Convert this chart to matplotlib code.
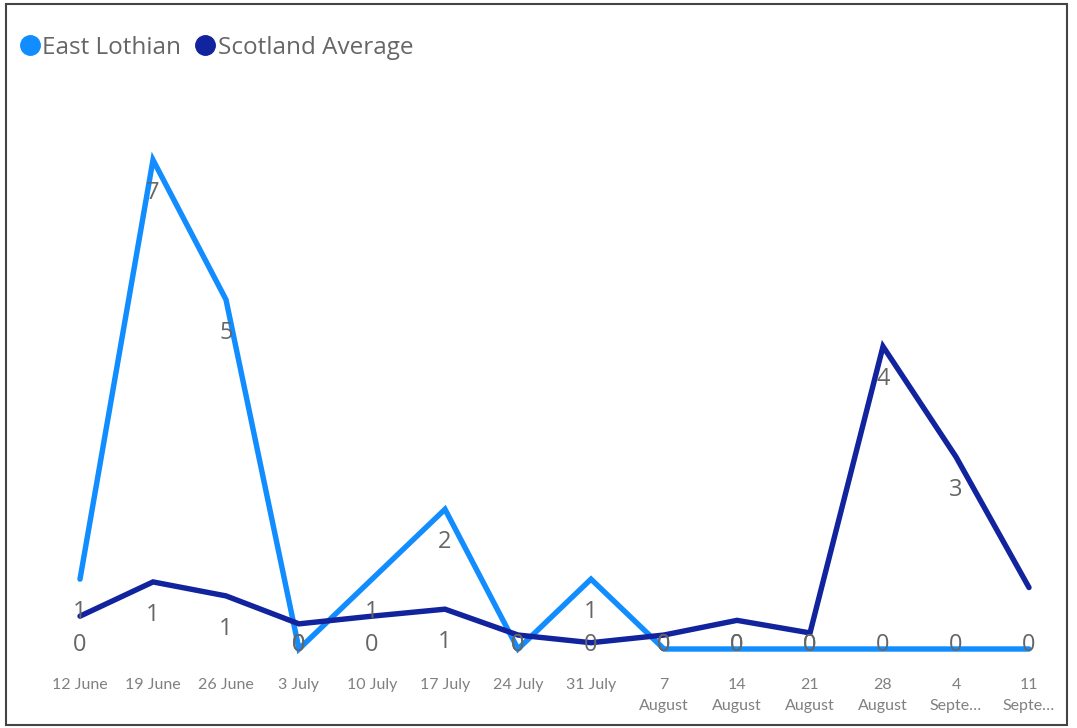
import matplotlib
matplotlib.use("Agg")
import matplotlib.pyplot as plt
from matplotlib.lines import Line2D
from matplotlib.patches import Rectangle

weeks = ["12 June", "19 June", "26 June", "3 July", "10 July", "17 July", "24 July",
         "31 July", "7\nAugust", "14\nAugust", "21\nAugust", "28\nAugust", "4\nSepte…", "11\nSepte…"]
east_lothian = [1, 7, 5, 0, 1, 2, 0, 1, 0, 0, 0, 0, 0, 0]
scotland_avg = [0.47, 0.96, 0.76, 0.36, 0.47, 0.57, 0.20, 0.09, 0.20, 0.41, 0.23, 4.33, 2.75, 0.88]
scotland_label_shown = [True] * 13 + [False]

c_el = "#118DFF"
c_sa = "#12239E"
txt = "#666666"
tick_c = "#808080"

W, H = 1077, 728
fig = plt.figure(figsize=(W / 100, H / 100), dpi=100)
fig.patches.append(Rectangle((6 / W, 3 / H), 1061 / W, 721 / H, transform=fig.transFigure,
                             fill=False, edgecolor="#444444", linewidth=1.5))

ax_l, ax_r = 50, 1059
ax_b, ax_t = 649, 125
ax = fig.add_axes([ax_l / W, 1 - ax_b / H, (ax_r - ax_l) / W, (ax_b - ax_t) / H])
x = list(range(len(weeks)))
ax.set_xlim(-30 / 73, 13 + 30 / 73)
ax.set_ylim(0, 7.5)
for s in ax.spines.values():
    s.set_visible(False)
ax.set_yticks([])
ax.set_xticks(x)
ax.set_xticklabels(weeks, fontsize=11.5, color=tick_c, family="Lato", linespacing=1.65, va="top")
ax.tick_params(axis="x", length=0, pad=21)

ax.plot(x, scotland_avg, color=c_sa, lw=3.9, solid_capstyle="round", solid_joinstyle="miter", clip_on=False, zorder=3)
ax.plot(x, east_lothian, color=c_el, lw=3.9, solid_capstyle="round", solid_joinstyle="miter", clip_on=False, zorder=2)

off = 33 / 69.9
floor = 4 / 69.9
for i in x:
    for vals, show in ((east_lothian, True), (scotland_avg, scotland_label_shown[i])):
        if not show:
            continue
        v = vals[i]
        ly = max(v - off, floor)
        ax.text(i, ly, f"{round(v):d}", ha="center", va="center", fontsize=17,
                color=txt, family="Open Sans", zorder=5)

handles = [Line2D([], [], marker="o", ls="", markersize=14, color=c_el),
           Line2D([], [], marker="o", ls="", markersize=14, color=c_sa)]
leg = fig.legend(handles, ["East Lothian", "Scotland Average"], loc="upper left",
                 bbox_to_anchor=(-4 / W, 1 - 14 / H), frameon=False, ncol=2,
                 handletextpad=0.0, columnspacing=0.5, handlelength=1.0,
                 prop={"family": "Open Sans", "size": 17.5})
for t in leg.get_texts():
    t.set_color(txt)

fig.savefig("out.png", dpi=100)
